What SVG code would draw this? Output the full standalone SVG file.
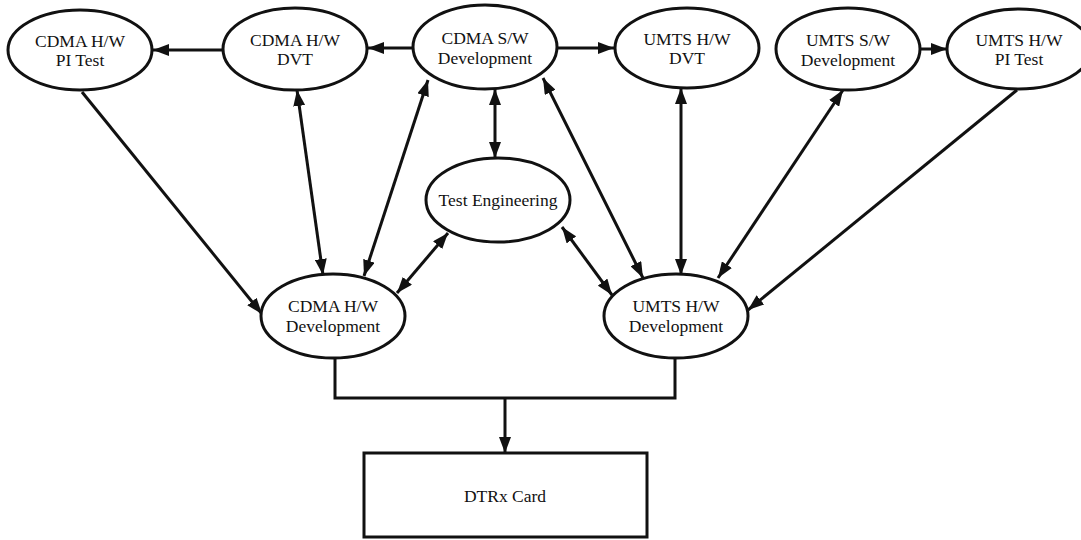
<svg xmlns="http://www.w3.org/2000/svg" width="1081" height="540" viewBox="0 0 1081 540">
<style>
.n ellipse{fill:#fff;stroke:#111;stroke-width:3}
.n rect{fill:#fff;stroke:#111;stroke-width:3}
.n text{font-family:'Liberation Serif','Times New Roman','DejaVu Serif',serif;font-size:17.5px;fill:#111;text-anchor:middle}
.e line,.e polyline{stroke:#111;stroke-width:3;fill:none}
.s{marker-end:url(#ah)}
.d{marker-start:url(#ah);marker-end:url(#ah)}
</style>
<defs>
<marker id="ah" viewBox="0 0 16 12" refX="16" refY="6" markerWidth="16" markerHeight="12" markerUnits="userSpaceOnUse" orient="auto-start-reverse">
<path d="M0,0 L16,6 L0,12 Z" fill="#111"/>
</marker>
</defs>
<rect width="1081" height="540" fill="#fff"/>
<g class="e" id="connectors">
<line class="s" x1="223" y1="50" x2="153" y2="50"/>
<line class="s" x1="413" y1="48" x2="368" y2="48"/>
<line class="s" x1="557" y1="48" x2="614" y2="48"/>
<line class="s" x1="920" y1="49" x2="947" y2="49"/>
<line class="s" x1="82" y1="92" x2="262" y2="314"/>
<line class="d" x1="297" y1="90" x2="323" y2="275"/>
<line class="d" x1="428" y1="80" x2="364" y2="276"/>
<line class="d" x1="495" y1="89" x2="495" y2="158"/>
<line class="d" x1="448" y1="233" x2="397" y2="293"/>
<line class="d" x1="562" y1="227" x2="612" y2="295"/>
<line class="d" x1="543" y1="78" x2="643" y2="278"/>
<line class="d" x1="681" y1="88" x2="681" y2="275"/>
<line class="d" x1="843" y1="90" x2="718" y2="278"/>
<line class="s" x1="1017" y1="90" x2="748" y2="310"/>
<polyline points="335,358 335,398 675,398 675,357"/>
<line class="s" x1="505" y1="398" x2="505" y2="453"/>
</g>
<g class="n" id="cdma-hw-pi-test"><ellipse cx="80" cy="50" rx="72" ry="40"/><text x="80" y="47">CDMA H/W</text><text x="80" y="66">PI Test</text></g>
<g class="n" id="cdma-hw-dvt"><ellipse cx="295" cy="49" rx="72" ry="41"/><text x="295" y="46">CDMA H/W</text><text x="295" y="65">DVT</text></g>
<g class="n" id="cdma-sw-dev"><ellipse cx="485" cy="47" rx="72" ry="42"/><text x="485" y="44">CDMA S/W</text><text x="485" y="64">Development</text></g>
<g class="n" id="umts-hw-dvt"><ellipse cx="687" cy="48" rx="72" ry="40"/><text x="687" y="45">UMTS H/W</text><text x="687" y="64">DVT</text></g>
<g class="n" id="umts-sw-dev"><ellipse cx="848" cy="49" rx="72" ry="41"/><text x="848" y="46">UMTS S/W</text><text x="848" y="66">Development</text></g>
<g class="n" id="umts-hw-pi-test"><ellipse cx="1019" cy="49" rx="72" ry="40"/><text x="1019" y="46">UMTS H/W</text><text x="1019" y="65">PI Test</text></g>
<g class="n" id="test-engineering"><ellipse cx="498" cy="200" rx="72" ry="42"/><text x="498" y="206">Test Engineering</text></g>
<g class="n" id="cdma-hw-dev"><ellipse cx="333" cy="316" rx="72" ry="42"/><text x="333" y="312">CDMA H/W</text><text x="333" y="332">Development</text></g>
<g class="n" id="umts-hw-dev"><ellipse cx="676" cy="316" rx="72" ry="42"/><text x="676" y="312">UMTS H/W</text><text x="676" y="332">Development</text></g>
<g class="n" id="dtrx-card"><rect x="364" y="453" width="283" height="84"/><text x="505" y="502">DTRx Card</text></g>
</svg>
